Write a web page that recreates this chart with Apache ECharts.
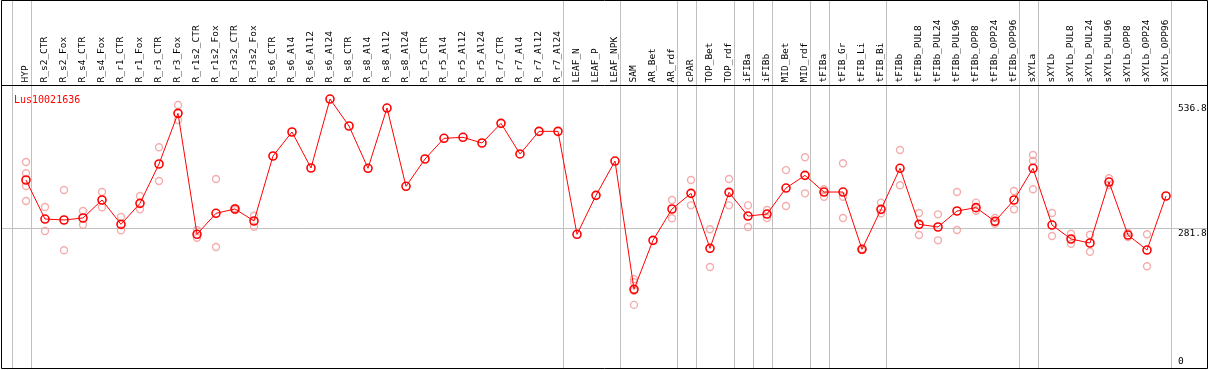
<!DOCTYPE html>
<html>
<head>
<meta charset="utf-8">
<script src="https://cdn.jsdelivr.net/npm/echarts@6/dist/echarts.min.js"></script>
<style>
html,body{margin:0;padding:0;background:#fff;}
#chart{width:1209px;height:370px;}
</style>
</head>
<body>
<div id="chart"></div>
<script>
const geneName = 'Lus10021636';
const categories = ['HYP','R_s2_CTR','R_s2_Fox','R_s4_CTR','R_s4_Fox','R_r1_CTR','R_r1_Fox','R_r3_CTR','R_r3_Fox','R_r1s2_CTR','R_r1s2_Fox','R_r3s2_CTR','R_r3s2_Fox','R_s6_CTR','R_s6_Al4','R_s6_Al12','R_s6_Al24','R_s8_CTR','R_s8_Al4','R_s8_Al12','R_s8_Al24','R_r5_CTR','R_r5_Al4','R_r5_Al12','R_r5_Al24','R_r7_CTR','R_r7_Al4','R_r7_Al12','R_r7_Al24','LEAF_N','LEAF_P','LEAF_NPK','SAM','AR_Bet','AR_rdf','cPAR','TOP_Bet','TOP_rdf','iFIBa','iFIBb','MID_Bet','MID_rdf','tFIBa','tFIB_Gr','tFIB_Li','tFIB_Bi','tFIBb','tFIBb_PUL8','tFIBb_PUL24','tFIBb_PUL96','tFIBb_OPP8','tFIBb_OPP24','tFIBb_OPP96','sXYLa','sXYLb','sXYLb_PUL8','sXYLb_PUL24','sXYLb_PUL96','sXYLb_OPP8','sXYLb_OPP24','sXYLb_OPP96'];
const meanValues = [376.4,299.1,297.2,301.1,336.8,288.6,330.2,408.1,508.5,268.8,310.4,319,295.2,424,471.5,400.2,536.8,483.4,399.6,519,363.9,418,459,461,449.7,488.7,428,472.8,472.8,268.8,346,414,159.8,256.9,319,350,241,352,305,309,360.5,385.6,352.6,352.6,239.1,318.3,399.6,288.6,283.3,315,321.6,294.5,336.8,399.6,287.2,259.5,251.6,372.4,267.4,237.7,344.7];
const replicateValues = [
  [412,389.7,364.5,334.8],[322.9,275.4],[356.6,237.1],[315,287.8],[352.6,322.3],[303.1,276.7],[344.7,318.3],[441.2,374.4],[525,495.3],[277.3,262],
  [378.4,243.7],[321,317],[305.7,283.9],[],[],[],[],[],[],[],
  [],[],[],[],[],[],[],[],[],[],
  [],[],[180,174,157,129],[],[336.8,300.5],[376.4,326.2],[278.7,204],[378.4,326.2],[326.2,283.3],[317,301],
  [396,325],[421.4,350],[358,343.3],[409.5,343.3,301.1],[240,238],[331.5,310.4],[435.8,365.9],[311,267.4],[308.4,256.9],[352.6,277.3],
  [331.5,315.6],[301.1,289.9],[354.6,318.3],[426,414,358],[311,265.5],[270,250.2],[268,234.4],[379.8,366.5],[272,263.5],[268.8,205.4],
  []
];
const axisLabelValues = [0, 281.8, 536.8];
const refLineValue = 281.8;
const yMax = 536.8 * 1.05;
// group separators drawn after these category indices (-1 = before first)
const separatorsAfter = [-1,0,28,31,34,35,37,38,39,41,42,45,52,53,60];

const scatterData = [];
replicateValues.forEach((arr, i) => arr.forEach(v => scatterData.push([categories[i], v])));

const chart = echarts.init(document.getElementById('chart'));
const font = "'DejaVu Sans Mono', monospace";
chart.setOption({
  animation: false,
  title: {
    text: geneName, left: 9, top: 90,
    textStyle: {color: '#ff0000', fontFamily: font, fontSize: 10, fontWeight: 'normal'}
  },
  grid: {left: 16.5, right: 33.5, top: 85.5, bottom: 0, containLabel: false},
  xAxis: {
    type: 'category', position: 'top', data: categories, boundaryGap: true,
    axisLine: {show: false}, axisTick: {show: false}, splitLine: {show: false},
    axisLabel: {rotate: 90, interval: 0, margin: 3, color: '#000', fontFamily: font, fontSize: 9.5}
  },
  yAxis: {
    type: 'value', min: 0, max: yMax, show: false, splitLine: {show: false}
  },
  series: [
    {
      type: 'scatter', data: scatterData, symbol: 'circle', symbolSize: 7, z: 2,
      itemStyle: {color: 'rgba(0,0,0,0)', borderColor: '#f09898', borderWidth: 1.4}
    },
    {
      type: 'line', data: meanValues, symbol: 'circle', symbolSize: 8, z: 3,
      lineStyle: {color: '#ff0000', width: 1},
      itemStyle: {color: 'rgba(0,0,0,0)', borderColor: '#ff0000', borderWidth: 1.6}
    }
  ]
});

const px = i => chart.convertToPixel({xAxisIndex: 0}, i);
const py = v => chart.convertToPixel({yAxisIndex: 0}, v);
const band = px(1) - px(0);
const g = [];
separatorsAfter.forEach(i => {
  const x = Math.round(px(0) + band * i + 4.5) + 0.5;
  g.push({type: 'line', shape: {x1: x, y1: 0, x2: x, y2: 369}, style: {stroke: '#c0c0c0', lineWidth: 1}, z: 0, silent: true});
});
const yRef = Math.round(py(refLineValue)) + 0.5;
g.push({type: 'line', shape: {x1: 2, y1: yRef, x2: 1207, y2: yRef}, style: {stroke: '#c0c0c0', lineWidth: 1}, z: 0});
// frame
g.push({type: 'rect', shape: {x: 1.5, y: 0.5, width: 1206, height: 368}, style: {fill: null, stroke: '#000', lineWidth: 1}, z: 10});
g.push({type: 'line', shape: {x1: 1, y1: 85.5, x2: 1208, y2: 85.5}, style: {stroke: '#000', lineWidth: 1}, z: 10});
// value labels
const offs = {0: [-3, 'bottom'], 281.8: [1, 'top'], 536.8: [4, 'top']};
axisLabelValues.forEach(v => {
  const o = offs[v];
  g.push({type: 'text', x: 1178, y: py(v) + o[0], style: {text: String(v), fill: '#000', font: '9.5px ' + font, textVerticalAlign: o[1], textAlign: 'left'}, z: 11});
});
chart.setOption({graphic: g});
</script>
</body>
</html>
